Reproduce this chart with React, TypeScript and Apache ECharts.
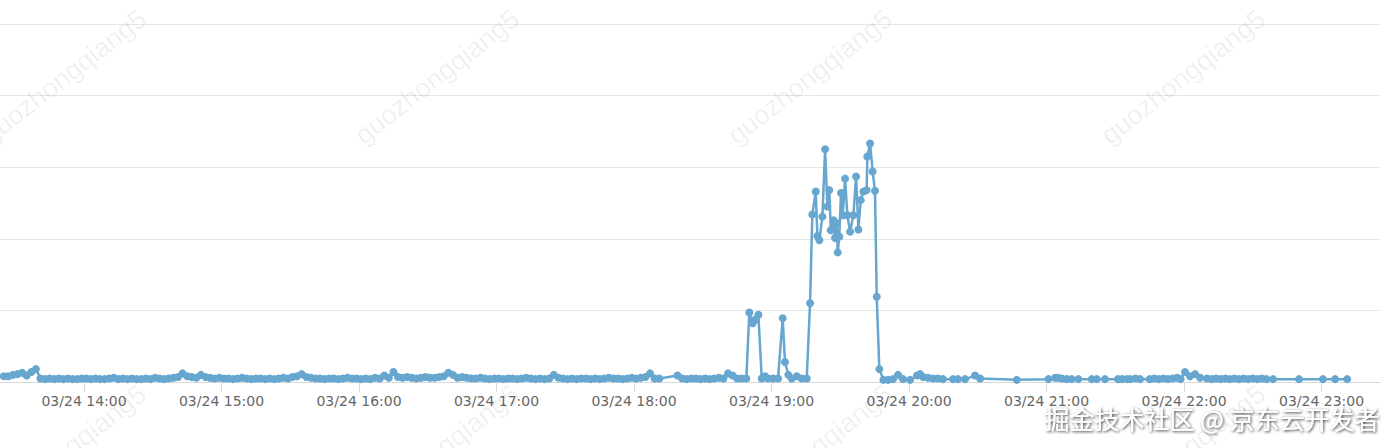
import { useEffect, useRef } from "react";
import * as echarts from "echarts";
import { ECharts } from "echarts";

// baseline samples, one every 2 minutes
const baseAStart = "13:23";
const baseAValues = [
  7, 8, 8, 10, 11, 13, 9, 14, 18, 5,
  4, 5, 4, 5, 4, 5, 4, 4, 5, 5,
  4, 5, 4, 4, 5, 6, 4, 5, 4, 5,
  4, 4, 5, 4, 6, 5, 4, 5, 6, 7,
  12, 8, 7, 6, 10, 7, 6, 5, 6, 5,
  5, 4, 5, 6, 5, 4, 5, 5, 4, 5,
  4, 5, 6, 5, 7, 8, 11, 7, 6, 5,
  5, 4, 5, 5, 4, 5, 6, 5, 5, 4,
  5, 4, 6, 5, 9, 6, 14, 7, 6, 7,
  6, 5, 6, 7, 6, 6, 7, 8, 13, 10,
  6, 7, 6, 5, 5, 6, 5, 4, 5, 5,
  4, 5, 5, 4, 5, 6, 5, 4, 5, 4,
  5, 10, 6, 5, 4, 5, 4, 5, 5, 4,
  5, 4, 5, 6, 5, 5, 4, 5, 6, 5,
  6, 7, 12, 5, 5,
];
const baseBStart = "18:19";
const baseBValues = [9, 5, 4, 5, 5, 4, 5, 4, 5, 6, 5, 12, 9, 5, 5, 5];

const spikeTimes = [
  "18:50:18", "18:51:47", "18:52:47", "18:54:15", "18:55:43", "18:57:10", "18:58:28",
  "19:00:39", "19:02:50", "19:04:52", "19:05:52", "19:07:19", "19:08:48", "19:11:00",
  "19:13:10", "19:15:21", "19:16:48", "19:17:48", "19:19:17", "19:20:00", "19:20:52",
  "19:22:11", "19:23:22", "19:24:22", "19:25:13", "19:25:50", "19:27:00", "19:27:42",
  "19:28:26", "19:28:52", "19:29:34", "19:30:18", "19:31:04", "19:32:05", "19:33:05",
  "19:34:16", "19:35:43", "19:36:53", "19:37:54", "19:38:55", "19:40:05", "19:41:30",
  "19:41:48", "19:43:00", "19:44:07", "19:45:08", "19:45:54", "19:47:02", "19:48:48",
];
const spikeValues = [
  97, 82, 87, 94, 5, 8, 5,
  5, 5, 89, 28, 10, 5, 8,
  5, 5, 110, 234, 266, 204, 198,
  231, 325, 245, 268, 212, 226, 201,
  222, 181, 203, 264, 233, 284, 233,
  210, 233, 287, 213, 254, 266, 268,
  315, 333, 294, 267, 119, 18, 3,
];

const tailTimes = [
  "19:50:50", "19:53:00", "19:55:12", "19:57:22", "20:00:26", "20:03:29", "20:04:47",
  "20:06:05", "20:08:17", "20:10:28", "20:12:39", "20:14:50", "20:19:12", "20:21:22",
  "20:24:26", "20:28:48", "20:31:00", "20:47:00", "21:00:48", "21:03:43", "21:05:00",
  "21:06:38", "21:08:49", "21:11:00", "21:13:53", "21:19:43", "21:21:54", "21:25:30",
  "21:31:11", "21:33:00", "21:35:00", "21:36:30", "21:38:46", "21:40:48", "21:45:00",
  "21:47:00", "21:49:00", "21:51:00", "21:53:00", "21:55:00", "21:57:00", "21:58:30",
  "22:00:24", "22:02:36", "22:04:48", "22:07:00", "22:10:00", "22:12:00", "22:14:00",
  "22:16:00", "22:18:00", "22:20:00", "22:22:00", "22:24:00", "22:26:00", "22:28:00",
  "22:30:00", "22:32:00", "22:34:00", "22:36:00", "22:38:50", "22:50:10", "23:00:35",
  "23:05:55", "23:11:10",
];
const tailValues = [
  3, 4, 10, 4, 3, 9, 11,
  7, 6, 5, 5, 4, 4, 4,
  4, 9, 5, 3, 4, 6, 6,
  5, 4, 4, 4, 4, 4, 4,
  4, 4, 4, 4, 5, 4, 4,
  5, 4, 5, 4, 5, 6, 4,
  14, 8, 11, 6, 5, 4, 5,
  4, 5, 4, 5, 4, 5, 4,
  5, 4, 5, 4, 4, 4, 4,
  4, 4,
];

const axisMin = "13:23:20";
const axisMax = "23:25:30";
const yTicks = [0, 100, 200, 300, 400, 500];

const toTime = (s: string) => {
  const [h, m, sec] = s.split(":").map(Number);
  return new Date(2023, 2, 24, h, m, sec || 0).getTime();
};
const pad = (n: number) => String(n).padStart(2, "0");

const App = () => {
  const chartRef = useRef<HTMLDivElement>(null);

  useEffect(() => {
    if (!chartRef.current) return;
    const myChart: ECharts = echarts.init(chartRef.current, null, { renderer: "svg" });

    const data: [number, number][] = [];
    const a0 = toTime(baseAStart);
    baseAValues.forEach((v, i) => data.push([a0 + i * 120000, v]));
    const b0 = toTime(baseBStart);
    baseBValues.forEach((v, i) => data.push([b0 + i * 120000, v]));
    spikeTimes.forEach((t, i) => data.push([toTime(t), spikeValues[i]]));
    tailTimes.forEach((t, i) => data.push([toTime(t), tailValues[i]]));

    // faint diagonal watermark grid
    const marks: any[] = [];
    [64, 437, 810, 1183].forEach((x) => {
      [77, 452].forEach((y) => {
        marks.push({
          type: "text",
          x,
          y,
          rotation: (38 * Math.PI) / 180,
          z: 50,
          silent: true,
          style: {
            text: "guozhongqiang5",
            fill: "rgba(0,0,0,0.065)",
            fontSize: 27,
            fontFamily: "Liberation Sans",
            align: "center",
            verticalAlign: "middle",
          },
        });
      });
    });
    marks.push({
      type: "text",
      x: 1212,
      y: 418,
      z: 60,
      silent: true,
      style: {
        text: "掘金技术社区 @ 京东云开发者",
        fill: "#ffffff",
        fontSize: 25,
        fontFamily: "Noto Sans CJK SC",
        align: "center",
        verticalAlign: "middle",
        textShadowColor: "rgba(0,0,0,0.8)",
        textShadowBlur: 3,
        textShadowOffsetX: 1,
        textShadowOffsetY: 1,
      },
    });

    myChart.setOption({
      animation: false,
      backgroundColor: "#ffffff",
      grid: { left: 0, right: 16, top: 24, bottom: 66 },
      xAxis: {
        type: "time",
        min: toTime(axisMin),
        max: toTime(axisMax),
        minInterval: 3600000,
        maxInterval: 3600000,
        axisLine: { lineStyle: { color: "#d9d9d9", width: 1 } },
        axisTick: { show: true, length: 10, lineStyle: { color: "#d9d9d9" } },
        splitLine: { show: false },
        axisLabel: {
          color: "#666",
          fontSize: 14,
          fontFamily: "DejaVu Sans",
          margin: 12,
          showMinLabel: false,
          showMaxLabel: false,
          formatter: (v: number) => {
            const d = new Date(v);
            return `${pad(d.getMonth() + 1)}/${pad(d.getDate())} ${pad(d.getHours())}:${pad(d.getMinutes())}`;
          },
        },
      },
      yAxis: {
        type: "value",
        min: yTicks[0],
        max: yTicks[yTicks.length - 1],
        interval: yTicks[1] - yTicks[0],
        axisLine: { show: false },
        axisTick: { show: false },
        axisLabel: { show: false },
        splitLine: { lineStyle: { color: "#e6e6e6", width: 1 } },
      },
      series: [
        {
          type: "line",
          data,
          symbol: "circle",
          symbolSize: 8,
          showSymbol: true,
          lineStyle: { color: "#66a6cf", width: 2.5 },
          itemStyle: { color: "#66a6cf" },
        },
      ],
      graphic: marks,
    });

    return () => {
      myChart.dispose();
    };
  }, []);

  return (
    <div
      ref={chartRef}
      style={{ position: "fixed", left: 0, top: 0, width: "1396px", height: "448px" }}
    ></div>
  );
};

export default App;
